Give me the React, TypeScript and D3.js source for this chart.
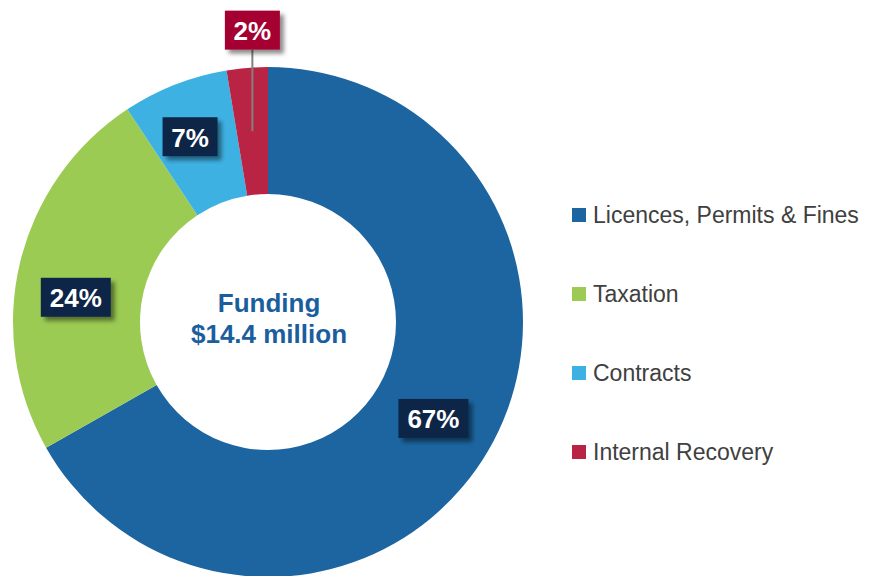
import { arc, pie, PieArcDatum } from "d3";
import { FC } from "react";

// funding split
const categories = [
  "Licences, Permits & Fines",
  "Taxation",
  "Contracts",
  "Internal Recovery"
];
const shares = [66.8, 23.9, 6.7, 2.6];
const shareLabels = ["67%", "24%", "7%", "2%"];
const colors = ["#1C65A0", "#9BCB53", "#3EB1E3", "#B92445"];
const centerTitle = ["Funding", "$14.4 million"];

const W = 870;
const H = 576;
const cx = 268;
const cy = 322;
const outerR = 255;
const innerR = 128;

type Slice = { name: string; value: number; label: string; color: string };

const slices: Slice[] = categories.map((name, i) => ({
  name,
  value: shares[i],
  label: shareLabels[i],
  color: colors[i]
}));

const App: FC = () => {
  const arcs = pie<Slice>()
    .sort(null)
    .value(d => d.value)(slices);

  const arcGen = arc<PieArcDatum<Slice>>()
    .innerRadius(innerR)
    .outerRadius(outerR);

  // labels sit near the centroid; small slice gets a callout above the ring
  const nudge = [
    [0, 0],
    [-6, 20],
    [-8, -7],
    [0, -101]
  ];

  return (
    <div style={{ position: "absolute", left: 0, top: 0 }}>
      <svg width={W} height={H} style={{ display: "block" }}>
        <defs>
          <filter id="shadow" x="-30%" y="-30%" width="160%" height="160%">
            <feDropShadow
              dx="4"
              dy="4"
              stdDeviation="2"
              floodColor="#000"
              floodOpacity="0.45"
            />
          </filter>
        </defs>
        <g transform={`translate(${cx},${cy})`}>
          {arcs.map((a, i) => (
            <path key={i} d={arcGen(a)!} fill={a.data.color} />
          ))}

          {arcs.map((a, i) => {
            const [x0, y0] = arcGen.centroid(a);
            const bw = a.data.label.length > 2 ? 70 : 55;
            const bh = 39;
            const isCallout = i === arcs.length - 1;
            const x = x0 + nudge[i][0];
            const y = y0 + nudge[i][1];
            return (
              <g key={"l" + i}>
                {isCallout && (
                  <line
                    x1={x0}
                    y1={y0}
                    x2={x0}
                    y2={y + bh / 2}
                    stroke="#808080"
                    strokeWidth={2}
                  />
                )}
                <rect
                  x={x - bw / 2}
                  y={y - bh / 2}
                  width={bw}
                  height={bh}
                  fill={isCallout ? "#A50031" : "#0C2747"}
                  filter="url(#shadow)"
                />
                <text
                  x={x}
                  y={y + 10}
                  textAnchor="middle"
                  fill="#fff"
                  fontFamily="'Liberation Sans', Arial, sans-serif"
                  fontWeight="bold"
                  fontSize={26}
                >
                  {a.data.label}
                </text>
              </g>
            );
          })}

          <text
            textAnchor="middle"
            fill="#1B5E9E"
            fontFamily="'Liberation Sans', Arial, sans-serif"
            fontWeight="bold"
            fontSize={26}
          >
            <tspan x={1} y={-10}>
              {centerTitle[0]}
            </tspan>
            <tspan x={1} y={21}>
              {centerTitle[1]}
            </tspan>
          </text>
        </g>

        <g transform="translate(572,215)">
          {slices.map((s, i) => (
            <g key={s.name} transform={`translate(0,${i * 79})`}>
              <rect x={0} y={-7} width={14} height={14} fill={s.color} />
              <text
                x={21}
                y={8}
                fill="#404040"
                fontFamily="'Liberation Sans', Arial, sans-serif"
                fontSize={23}
              >
                {s.name}
              </text>
            </g>
          ))}
        </g>
      </svg>
    </div>
  );
};

export default App;
